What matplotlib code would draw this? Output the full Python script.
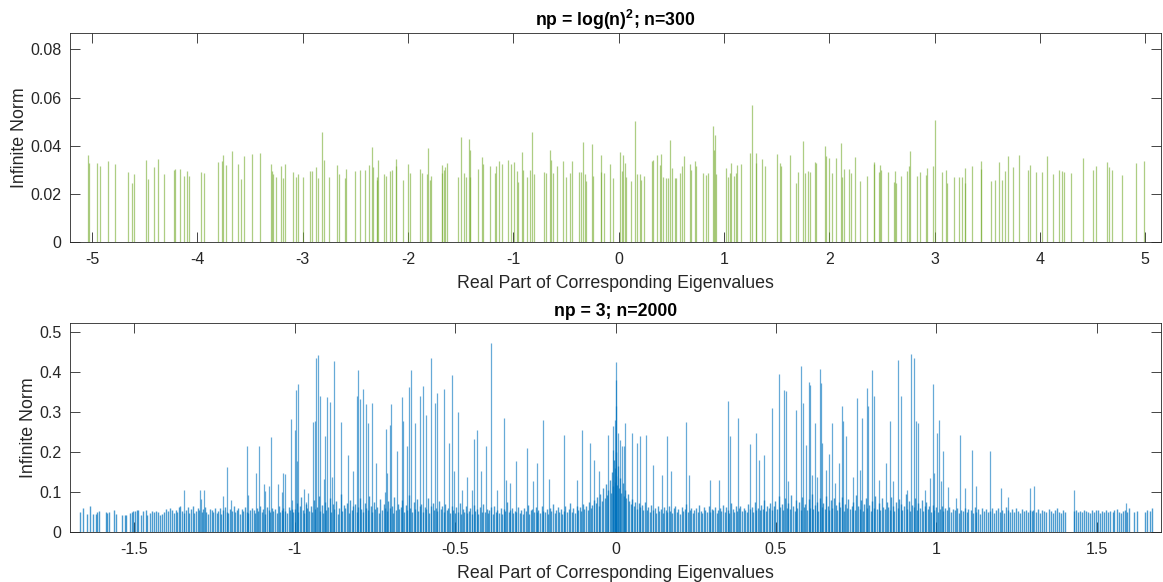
import numpy as np
import matplotlib
matplotlib.use("Agg")
import matplotlib.pyplot as plt

plt.rcParams['font.family'] = ['Liberation Sans', 'DejaVu Sans']
plt.rcParams['axes.unicode_minus'] = False
plt.rcParams['mathtext.fontset'] = 'custom'
plt.rcParams['mathtext.rm'] = 'Liberation Sans'
plt.rcParams['mathtext.bf'] = 'Liberation Sans:bold'

# ---------------- top panel: np = log(n)^2, n = 300 ----------------
top_x = [
    -5.038, -5.028, -4.949, -4.927, -4.848, -4.785, -4.658, -4.620, -4.604, -4.491,
    -4.468, -4.411, -4.377, -4.316, -4.225, -4.212, -4.168, -4.127, -4.095, -4.079,
    -3.968, -3.940, -3.807, -3.763, -3.756, -3.725, -3.674, -3.611, -3.582, -3.557,
    -3.484, -3.408, -3.301, -3.288, -3.282, -3.250, -3.203, -3.187, -3.168, -3.092,
    -3.066, -3.044, -2.997, -2.927, -2.911, -2.870, -2.854, -2.813, -2.794, -2.750,
    -2.674, -2.658, -2.598, -2.592, -2.500, -2.459, -2.411, -2.370, -2.339, -2.332,
    -2.294, -2.291, -2.285, -2.225, -2.206, -2.168, -2.155, -2.117, -2.111, -2.047,
    -1.997, -1.984, -1.883, -1.864, -1.820, -1.813, -1.794, -1.778, -1.680, -1.674,
    -1.655, -1.646, -1.630, -1.522, -1.494, -1.472, -1.446, -1.424, -1.415, -1.408,
    -1.335, -1.301, -1.285, -1.225, -1.174, -1.161, -1.136, -1.104, -1.051, -1.019,
    -0.997, -0.965, -0.956, -0.921, -0.908, -0.867, -0.842, -0.826, -0.804, -0.709,
    -0.693, -0.655, -0.646, -0.623, -0.589, -0.528, -0.497, -0.465, -0.440, -0.377,
    -0.354, -0.339, -0.320, -0.307, -0.250, -0.241, -0.168, -0.165, -0.142, -0.085,
    -0.054, 0.016, 0.028, 0.044, 0.057, 0.073, 0.117, 0.155, 0.174, 0.199,
    0.215, 0.237, 0.316, 0.326, 0.361, 0.389, 0.402, 0.421, 0.453, 0.472,
    0.491, 0.503, 0.535, 0.547, 0.585, 0.601, 0.623, 0.674, 0.690, 0.722,
    0.737, 0.801, 0.826, 0.851, 0.896, 0.902, 0.915, 0.927, 1.022, 1.038,
    1.054, 1.070, 1.092, 1.114, 1.127, 1.158, 1.244, 1.266, 1.301, 1.307,
    1.364, 1.389, 1.500, 1.528, 1.544, 1.630, 1.687, 1.703, 1.750, 1.766,
    1.797, 1.820, 1.861, 1.877, 1.959, 1.972, 2.000, 2.028, 2.066, 2.111,
    2.120, 2.136, 2.184, 2.209, 2.241, 2.291, 2.358, 2.421, 2.427, 2.468,
    2.478, 2.494, 2.557, 2.617, 2.623, 2.636, 2.684, 2.737, 2.753, 2.766,
    2.829, 2.858, 2.915, 2.930, 2.984, 3.000, 3.070, 3.108, 3.114, 3.180,
    3.234, 3.259, 3.285, 3.291, 3.354, 3.437, 3.443, 3.532, 3.570, 3.614,
    3.636, 3.671, 3.696, 3.744, 3.801, 3.886, 3.908, 3.965, 4.022, 4.066,
    4.120, 4.177, 4.209, 4.225, 4.294, 4.405, 4.509, 4.535, 4.636, 4.658,
    4.684, 4.778, 4.911, 4.984,
]
top_h = [
    0.0360, 0.0328, 0.0328, 0.0317, 0.0335, 0.0325, 0.0289, 0.0244, 0.0283, 0.0342,
    0.0263, 0.0310, 0.0346, 0.0282, 0.0300, 0.0303, 0.0304, 0.0276, 0.0293, 0.0275,
    0.0292, 0.0285, 0.0331, 0.0336, 0.0363, 0.0321, 0.0376, 0.0326, 0.0261, 0.0358,
    0.0365, 0.0369, 0.0324, 0.0293, 0.0282, 0.0268, 0.0315, 0.0267, 0.0325, 0.0292,
    0.0272, 0.0283, 0.0268, 0.0296, 0.0293, 0.0310, 0.0267, 0.0456, 0.0342, 0.0268,
    0.0319, 0.0283, 0.0264, 0.0304, 0.0293, 0.0300, 0.0300, 0.0318, 0.0396, 0.0310,
    0.0268, 0.0258, 0.0342, 0.0283, 0.0276, 0.0296, 0.0300, 0.0344, 0.0317, 0.0256,
    0.0325, 0.0286, 0.0303, 0.0288, 0.0282, 0.0392, 0.0258, 0.0276, 0.0321, 0.0286,
    0.0300, 0.0310, 0.0328, 0.0272, 0.0435, 0.0285, 0.0272, 0.0428, 0.0383, 0.0272,
    0.0303, 0.0353, 0.0322, 0.0314, 0.0286, 0.0314, 0.0335, 0.0322, 0.0339, 0.0324,
    0.0332, 0.0296, 0.0249, 0.0375, 0.0300, 0.0269, 0.0300, 0.0456, 0.0281, 0.0289,
    0.0286, 0.0381, 0.0342, 0.0286, 0.0314, 0.0335, 0.0268, 0.0288, 0.0335, 0.0289,
    0.0289, 0.0414, 0.0283, 0.0254, 0.0408, 0.0275, 0.0361, 0.0289, 0.0286, 0.0324,
    0.0265, 0.0372, 0.0293, 0.0363, 0.0328, 0.0268, 0.0253, 0.0503, 0.0282, 0.0282,
    0.0258, 0.0275, 0.0336, 0.0342, 0.0363, 0.0318, 0.0365, 0.0269, 0.0265, 0.0265,
    0.0425, 0.0307, 0.0265, 0.0265, 0.0286, 0.0314, 0.0356, 0.0324, 0.0300, 0.0335,
    0.0315, 0.0286, 0.0279, 0.0286, 0.0483, 0.0383, 0.0446, 0.0282, 0.0307, 0.0272,
    0.0286, 0.0328, 0.0276, 0.0286, 0.0318, 0.0324, 0.0369, 0.0571, 0.0369, 0.0328,
    0.0344, 0.0314, 0.0367, 0.0328, 0.0314, 0.0361, 0.0244, 0.0289, 0.0418, 0.0286,
    0.0293, 0.0289, 0.0332, 0.0328, 0.0397, 0.0356, 0.0349, 0.0286, 0.0349, 0.0411,
    0.0268, 0.0303, 0.0303, 0.0286, 0.0353, 0.0254, 0.0276, 0.0332, 0.0325, 0.0292,
    0.0321, 0.0299, 0.0289, 0.0251, 0.0293, 0.0244, 0.0276, 0.0293, 0.0317, 0.0376,
    0.0276, 0.0292, 0.0279, 0.0308, 0.0317, 0.0508, 0.0289, 0.0300, 0.0247, 0.0272,
    0.0268, 0.0268, 0.0247, 0.0307, 0.0317, 0.0336, 0.0304, 0.0254, 0.0258, 0.0331,
    0.0256, 0.0293, 0.0357, 0.0310, 0.0363, 0.0300, 0.0318, 0.0290, 0.0289, 0.0356,
    0.0282, 0.0300, 0.0296, 0.0292, 0.0286, 0.0349, 0.0297, 0.0314, 0.0333, 0.0310,
    0.0300, 0.0279, 0.0328, 0.0338,
]

# ---------------- bottom panel: np = 3, n = 2000 ----------------
peak_x = [
    -1.345, -1.296, -1.291, -1.281, -1.222, -1.211, -1.198, -1.149, -1.144, -1.119,
    -1.110, -1.095, -1.091, -1.079, -1.075, -1.051, -1.040, -1.035, -1.031, -1.012,
    -1.007, -1.000, -0.996, -0.994, -0.991, -0.971, -0.963, -0.958, -0.942, -0.936,
    -0.932, -0.927, -0.921, -0.909, -0.906, -0.898, -0.891, -0.885, -0.877, -0.857,
    -0.835, -0.818, -0.807, -0.801, -0.795, -0.786, -0.778, -0.772, -0.759, -0.745,
    -0.718, -0.716, -0.711, -0.704, -0.699, -0.680, -0.665, -0.662, -0.650, -0.645,
    -0.636, -0.624, -0.610, -0.601, -0.590, -0.575, -0.562, -0.556, -0.536, -0.520,
    -0.510, -0.503, -0.491, -0.479, -0.463, -0.448, -0.440, -0.432, -0.418, -0.403,
    -0.388, -0.370, -0.349, -0.341, -0.328, -0.309, -0.277, -0.256, -0.246, -0.225,
    -0.208, -0.161, -0.121, -0.103, -0.080, -0.067, -0.051, -0.023, -0.009, -0.007,
    -0.003, 0.000, 0.002, 0.003, 0.008, 0.013, 0.021, 0.026, 0.030, 0.051,
    0.066, 0.076, 0.096, 0.117, 0.146, 0.162, 0.174, 0.219, 0.230, 0.293,
    0.324, 0.350, 0.358, 0.381, 0.418, 0.438, 0.447, 0.464, 0.488, 0.509,
    0.526, 0.532, 0.537, 0.563, 0.578, 0.585, 0.593, 0.604, 0.606, 0.611,
    0.621, 0.627, 0.637, 0.639, 0.645, 0.656, 0.666, 0.676, 0.684, 0.696,
    0.705, 0.710, 0.717, 0.739, 0.753, 0.761, 0.769, 0.783, 0.786, 0.800,
    0.806, 0.821, 0.844, 0.855, 0.866, 0.881, 0.891, 0.907, 0.920, 0.929,
    0.936, 0.942, 0.966, 0.979, 0.988, 0.993, 1.002, 1.008, 1.013, 1.021,
    1.036, 1.062, 1.073, 1.088, 1.112, 1.124, 1.166, 1.200, 1.224, 1.293,
    1.304, 1.430, 1.591,
]
peak_h = [
    0.106, 0.106, 0.083, 0.106, 0.091, 0.164, 0.079, 0.216, 0.093, 0.148,
    0.216, 0.121, 0.102, 0.116, 0.238, 0.121, 0.099, 0.148, 0.146, 0.283,
    0.081, 0.256, 0.356, 0.177, 0.371, 0.108, 0.076, 0.098, 0.275, 0.277,
    0.436, 0.444, 0.341, 0.133, 0.240, 0.337, 0.325, 0.139, 0.429, 0.276,
    0.194, 0.154, 0.340, 0.406, 0.333, 0.358, 0.321, 0.273, 0.322, 0.173,
    0.099, 0.258, 0.148, 0.269, 0.321, 0.204, 0.338, 0.277, 0.215, 0.363,
    0.406, 0.273, 0.341, 0.365, 0.294, 0.436, 0.323, 0.348, 0.358, 0.223,
    0.394, 0.152, 0.300, 0.104, 0.139, 0.106, 0.233, 0.256, 0.154, 0.215,
    0.473, 0.106, 0.285, 0.131, 0.123, 0.177, 0.210, 0.127, 0.173, 0.281,
    0.133, 0.244, 0.131, 0.256, 0.223, 0.181, 0.152, 0.244, 0.265, 0.206,
    0.281, 0.427, 0.381, 0.315, 0.248, 0.231, 0.215, 0.215, 0.273, 0.248,
    0.223, 0.240, 0.244, 0.169, 0.144, 0.240, 0.152, 0.275, 0.144, 0.131,
    0.129, 0.327, 0.240, 0.285, 0.221, 0.248, 0.181, 0.194, 0.311, 0.396,
    0.355, 0.352, 0.127, 0.306, 0.415, 0.323, 0.219, 0.375, 0.369, 0.144,
    0.273, 0.139, 0.409, 0.373, 0.223, 0.156, 0.196, 0.273, 0.123, 0.173,
    0.315, 0.277, 0.240, 0.139, 0.336, 0.156, 0.285, 0.361, 0.316, 0.407,
    0.340, 0.129, 0.173, 0.277, 0.127, 0.430, 0.340, 0.106, 0.447, 0.437,
    0.277, 0.273, 0.106, 0.135, 0.371, 0.149, 0.248, 0.281, 0.127, 0.202,
    0.113, 0.085, 0.242, 0.110, 0.206, 0.116, 0.204, 0.109, 0.087, 0.109,
    0.116, 0.106, 0.073,
]

# baseline bars (positions and heights in thousandths)
base_x_milli = [
    -1669, -1658, -1648, -1638, -1627, -1620, -1615, -1609, -1589, -1584,
    -1579, -1563, -1557, -1537, -1530, -1524, -1513, -1508, -1503, -1496,
    -1491, -1487, -1480, -1472, -1464, -1459, -1451, -1443, -1437, -1432,
    -1427, -1418, -1413, -1408, -1401, -1394, -1387, -1382, -1377, -1370,
    -1365, -1360, -1356, -1350, -1344,
    -1338, -1333, -1329, -1322, -1318, -1313, -1307, -1302, -1297, -1290,
    -1285, -1279, -1275, -1270, -1264, -1259, -1254, -1249, -1243, -1238,
    -1233, -1228, -1222, -1217, -1212, -1207, -1201, -1196, -1190, -1186,
    -1181, -1175, -1170, -1165, -1160, -1154, -1149, -1144, -1139, -1134,
    -1128, -1123, -1118, -1113, -1108, -1102, -1097, -1092, -1087, -1081,
    -1076, -1071, -1066, -1061, -1055, -1050, -1045, -1040, -1035, -1029,
    -1024, -1019, -1014, -1009, -1004,
    -999, -994, -989, -984, -979, -974, -970, -965, -960, -955,
    -950, -945, -940, -935, -930, -925, -920, -916, -911, -906,
    -901, -896, -891, -886, -881, -876, -871, -866, -861, -856,
    -851, -846, -842, -837, -832, -827, -822, -817, -812, -807,
    -802, -797, -792, -787, -782, -777, -772, -767, -763, -758,
    -753, -748, -743, -738, -733, -728, -723, -718, -713, -708,
    -703, -698, -693, -689, -684, -679, -674, -669, -664, -659,
    -654, -649, -644, -639, -634, -629, -624, -619, -615, -610,
    -605, -600, -595, -590, -585, -580, -575, -570, -565, -560,
    -555, -550, -545, -541, -536, -531, -526, -521, -516, -511,
    -506, -501, -496, -491, -486, -481, -476, -471, -467, -462,
    -457, -452, -447, -442, -437, -432, -427, -422, -417, -412,
    -407, -402, -397, -393, -388, -383, -378, -373, -368, -363,
    -358, -353, -348, -343, -338, -333, -328, -323, -319, -314,
    -309, -304, -299, -294, -289, -284, -279, -274, -269, -264,
    -259, -254, -249, -245, -240, -235, -230, -225, -220, -215,
    -210, -205, -200, -195, -190, -185, -180, -175, -171, -166,
    -161, -156, -151, -146, -141, -136, -131, -126, -121, -116,
    -111, -106, -101, -97, -92, -87, -82, -77, -72, -67,
    -62, -57, -52, -47, -42, -38, -34, -30, -26, -22,
    -18, -15, -12, -9, -6, -3, -1, 1, 3, 6,
    9, 12, 15, 18, 22, 26, 30, 34, 38, 42,
    47, 52, 57, 62, 67, 72, 77, 82, 87, 92,
    97, 102, 107, 112, 117, 122, 127, 132, 137, 142,
    147, 152, 157, 162, 167, 171, 176, 181, 186, 191,
    196, 201, 206, 211, 216, 221, 226, 231, 236, 241,
    246, 251, 256, 261, 266, 270, 275, 280, 285, 290,
    295, 300, 305, 310, 315, 320, 325, 330, 335, 340,
    345, 350, 355, 360, 365, 369, 374, 379, 384, 389,
    394, 399, 404, 409, 414, 419, 424, 429, 434, 439,
    444, 449, 454, 459, 464, 468, 473, 478, 483, 488,
    493, 498, 503, 508, 513, 518, 523, 528, 533, 538,
    543, 548, 553, 558, 563, 567, 572, 577, 582, 587,
    592, 597, 602, 607, 612, 617, 622, 627, 632, 637,
    642, 647, 652, 657, 662, 666, 671, 676, 681, 686,
    691, 696, 701, 706, 711, 716, 721, 726, 731, 736,
    741, 746, 751, 756, 761, 765, 770, 775, 780, 785,
    790, 795, 800, 805, 810, 815, 820, 825, 830, 835,
    840, 845, 850, 855, 860, 864, 869, 874, 879, 884,
    889, 894, 899, 904, 909, 914, 919, 924, 929, 934,
    939, 944, 949, 954, 959, 963, 968, 973, 978, 983,
    988, 993, 998, 1004, 1010, 1016, 1022, 1028, 1034, 1040,
    1046, 1052, 1058, 1064, 1070, 1076, 1082, 1088, 1094, 1100,
    1107, 1113, 1119, 1125, 1131, 1137, 1143, 1149, 1155, 1161,
    1168, 1174, 1180, 1186, 1192, 1198, 1205, 1211, 1217, 1223,
    1229, 1236, 1242, 1248, 1254, 1261, 1267, 1273, 1280, 1286,
    1292, 1298,
    1302, 1309, 1316, 1322, 1330, 1336, 1343, 1350, 1356, 1362,
    1369, 1375, 1382, 1388, 1395, 1400,
    1428, 1434, 1440, 1447, 1453, 1460, 1466, 1472, 1478, 1485,
    1491, 1497, 1504, 1510, 1517, 1523, 1530, 1536, 1542, 1549,
    1555, 1562, 1568, 1575, 1581, 1588, 1594, 1600,
    1617, 1625,
    1650, 1657, 1665, 1671,
]
base_h_milli = [
    49, 60, 46, 64, 46, 45, 49, 52, 50, 48,
    50, 56, 46, 43, 43, 43, 48, 50, 53, 52,
    54, 56, 43, 52, 56, 43, 48, 53, 49, 52,
    50, 43, 46, 49, 58, 52, 60, 54, 48, 56,
    50, 63, 66, 52, 48,
    55, 62, 48, 58, 65, 47, 52, 60, 55, 49,
    57, 63, 51, 46, 58, 54, 50, 61, 47, 53,
    59, 45, 56, 62, 50, 48, 57, 53, 64, 49,
    55, 60, 46, 58, 52, 63, 50, 47, 56, 61,
    54, 48, 59, 52, 66, 50, 57, 45, 62, 55,
    49, 60, 53, 58, 47, 64, 51, 56, 60, 52,
    48, 63, 55, 58, 50,
    58, 72, 50, 64, 88, 55, 47, 70, 61, 53,
    66, 49, 80, 57, 62, 91, 52, 68, 48, 74,
    56, 63, 85, 51, 69, 58, 77, 46, 60, 94,
    53, 67, 59, 72, 48, 81, 55, 64, 70, 50,
    62, 86, 57, 49, 73, 60, 54, 90, 66, 51,
    75, 58, 63, 47, 82, 56, 69, 61, 52, 78,
    59, 65, 48, 88, 54, 71, 57, 63, 80, 50,
    67, 55, 92, 60, 49, 74, 58, 83, 53, 64,
    70, 51, 62, 57, 86, 48, 65, 73, 55, 60,
    52, 78, 58, 64, 49, 70, 56, 61, 47, 66,
    55, 48, 62, 51, 72, 45, 58, 50, 64, 47,
    53, 60, 46, 68, 52, 57, 44, 63, 49, 70,
    51, 58, 47, 55, 62, 45, 66, 50, 54, 48,
    60, 46, 57, 52, 74, 49, 55, 61, 47, 53,
    50, 63, 48, 56, 45, 59, 52, 67, 46, 54,
    58, 49, 62, 51, 55, 47, 64, 53, 50, 57,
    46, 60, 52, 69, 48, 55, 62, 50, 58, 45,
    53, 64, 49, 57, 72, 51, 60, 47, 66, 55,
    62, 52, 70, 58, 66, 54, 75, 61, 68, 80,
    72, 88, 64, 95, 78, 110, 85, 120, 92, 104,
    130, 98, 150, 115, 180, 125, 160, 200, 140, 118,
    165, 110, 135, 98, 122, 90, 105, 84, 96, 78,
    70, 82, 64, 76, 58, 72, 62, 68, 55, 74,
    56, 63, 50, 68, 54, 60, 48, 65, 52, 58,
    47, 62, 55, 50, 66, 53, 48, 59, 64, 51,
    57, 46, 63, 52, 58, 70, 49, 55, 61, 47,
    54, 60, 50, 67, 53, 48, 62, 56, 51, 65,
    49, 58, 54, 63, 47, 56, 60, 52, 68, 50,
    62, 55, 48, 72, 57, 51, 64, 53, 59, 66,
    52, 60, 55, 49, 70, 58, 63, 50, 75, 56,
    61, 54, 68, 57, 80, 52, 65, 59, 72, 55,
    64, 78, 58, 90, 62, 70, 55, 85, 60, 73,
    57, 92, 66, 52, 80, 61, 74, 56, 88, 63,
    70, 54, 82, 60, 95, 58, 67, 76, 53, 86,
    62, 72, 57, 90, 65, 54, 79, 60, 84, 68,
    56, 75, 63, 88, 52, 70, 61, 82, 58, 66,
    74, 55, 92, 64, 58, 80, 53, 69, 86, 60,
    67, 52, 78, 61, 90, 57, 72, 55, 84, 63,
    58, 76, 62, 54, 88, 66, 52, 74, 60, 82,
    70, 56, 64, 94, 58, 78, 52, 68, 62, 86,
    55, 72, 60, 80, 53, 66, 76, 57, 64, 50,
    68, 56, 62, 50, 58, 65, 52, 60, 55, 63,
    49, 58, 54, 61, 47, 56, 52, 60, 50, 57,
    55, 48, 62, 51, 57, 46, 60, 53, 58, 50,
    52, 59, 47, 55, 61, 50, 56, 48, 63, 54,
    51, 57, 49, 60, 53, 47, 58, 52, 55, 50,
    56, 52,
    55, 50, 58, 47, 56, 52, 49, 57, 53, 48,
    55, 60, 50, 47, 54, 51,
    52, 55, 50, 53, 49, 55, 52, 51, 48, 54,
    50, 56, 55, 47, 52, 50, 56, 50, 53, 49,
    55, 58, 51, 48, 52, 55, 50, 60,
    51, 53,
    50, 55, 52, 60,
]

top_xticks = [-5, -4, -3, -2, -1, 0, 1, 2, 3, 4, 5]
top_yticks = [0, 0.02, 0.04, 0.06, 0.08]
top_yticklabels = ['0', '0.02', '0.04', '0.06', '0.08']
bot_xticks = [-1.5, -1, -0.5, 0, 0.5, 1, 1.5]
bot_xticklabels = ['-1.5', '-1', '-0.5', '0', '0.5', '1', '1.5']
bot_yticks = [0, 0.1, 0.2, 0.3, 0.4, 0.5]
bot_yticklabels = ['0', '0.1', '0.2', '0.3', '0.4', '0.5']

GREEN = '#77AC30'
BLUE = '#0072BD'
AXC = '#262626'

W, H = 1163, 582
fig = plt.figure(figsize=(W / 100, H / 100), dpi=100)
fig.patch.set_facecolor('white')

def frac(l, t, r, b):
    return [l / W, 1 - b / H, (r - l) / W, (b - t) / H]

ax1 = fig.add_axes(frac(70, 33, 1161, 242))
ax2 = fig.add_axes(frac(70, 323, 1161, 532))

n = min(len(base_x_milli), len(base_h_milli))
base_x = np.array(base_x_milli[:n]) / 1000.0
base_h = np.array(base_h_milli[:n]) / 1000.0

ax1.vlines(top_x, 0, top_h, colors=GREEN, linewidth=0.9, alpha=0.6)
ax2.vlines(base_x, 0, base_h, colors=BLUE, linewidth=1.0, alpha=0.7)
ax2.vlines(peak_x, 0, peak_h, colors=BLUE, linewidth=0.9, alpha=0.6)

TICK_FS = 11.5
LABEL_FS = 12.8
TITLE_FS = 12.7

def style(ax):
    for s in ax.spines.values():
        s.set_color(AXC)
        s.set_linewidth(0.6)
    ax.tick_params(direction='in', top=True, right=True, length=7, width=0.6,
                   color=AXC, labelcolor=AXC, labelsize=TICK_FS)
    ax.tick_params(axis='x', pad=7)
    ax.tick_params(axis='y', pad=6)

ax1.set_xlim(-5.21, 5.15)
ax1.set_ylim(0, 0.0868)
ax1.set_xticks(top_xticks)
ax1.set_xticklabels([str(t) for t in top_xticks])
ax1.set_yticks(top_yticks)
ax1.set_yticklabels(top_yticklabels)
style(ax1)
ax1.set_xlabel('Real Part of Corresponding Eigenvalues', fontsize=LABEL_FS, color=AXC, labelpad=6)
ax1.set_ylabel('Infinite Norm', fontsize=LABEL_FS, color=AXC, labelpad=2)
ax1.set_title(r'np = log(n)$^{\mathbf{2}}$; n=300', fontsize=TITLE_FS, fontweight='bold', color='black', pad=5)

ax2.set_xlim(-1.70, 1.70)
ax2.set_ylim(0, 0.5235)
ax2.set_xticks(bot_xticks)
ax2.set_xticklabels(bot_xticklabels)
ax2.set_yticks(bot_yticks)
ax2.set_yticklabels(bot_yticklabels)
style(ax2)
ax2.set_xlabel('Real Part of Corresponding Eigenvalues', fontsize=LABEL_FS, color=AXC, labelpad=6)
ax2.set_ylabel('Infinite Norm', fontsize=LABEL_FS, color=AXC, labelpad=2)
ax2.set_title('np = 3; n=2000', fontsize=TITLE_FS, fontweight='bold', color='black', pad=5)

fig.savefig('out.png', dpi=100, facecolor='white')
